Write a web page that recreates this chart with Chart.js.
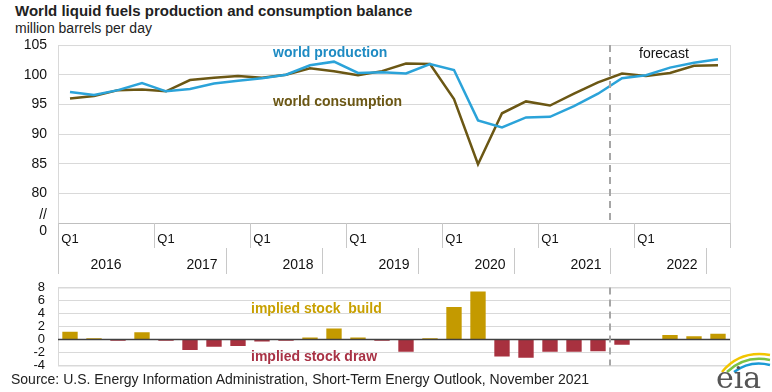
<!DOCTYPE html>
<html>
<head>
<meta charset="utf-8">
<script src="https://cdn.jsdelivr.net/npm/chart.js@4.4.0/dist/chart.umd.min.js"></script>
<style>
body{margin:0;background:#fff;font-family:"Liberation Sans",Arial,sans-serif;}
#wrap{position:relative;width:772px;height:392px;overflow:hidden;background:#fff;}
.t{position:absolute;white-space:nowrap;line-height:1;}
canvas{position:absolute;left:0;}
</style>
</head>
<body>
<div id="wrap">
  <div class="t" style="left:15px;top:3px;font-size:15px;font-weight:bold;color:#222">World liquid fuels production and consumption balance</div>
  <div class="t" style="left:15px;top:21px;font-size:14px;color:#222">million barrels per day</div>
  <!-- chart.js adds label half-height + tick padding above/below the plot, so the canvases start higher -->
  <canvas id="topChart" width="772" height="254" style="top:26px"></canvas>
  <canvas id="stockChart" width="772" height="117" style="top:268px"></canvas>
  <div class="t" style="left:273px;top:45px;font-size:14px;font-weight:bold;color:#1e8bc3">world production</div>
  <div class="t" style="left:273px;top:94px;font-size:14px;font-weight:bold;color:#6b5714">world consumption</div>
  <div class="t" style="left:639px;top:46px;font-size:14px;color:#111">forecast</div>
  <div class="t" style="left:251px;top:301px;font-size:14px;font-weight:bold;color:#c8a000">implied stock&nbsp; build</div>
  <div class="t" style="left:251px;top:349px;font-size:14px;font-weight:bold;color:#a83245">implied stock draw</div>
  <div class="t" style="left:11px;top:372px;font-size:14px;color:#222">Source: U.S. Energy Information Administration, Short-Term Energy Outlook, November 2021</div>
  <svg style="position:absolute;left:712px;top:346px" width="60" height="46">
    <path d="M10 26 Q28 4 58 9" stroke="#f2c500" stroke-width="2.5" fill="none"/>
    <path d="M15 26 Q33 9 58 14" stroke="#7cc242" stroke-width="2.5" fill="none"/>
    <path d="M22 26 Q38 14 58 19" stroke="#1a9ad6" stroke-width="2.5" fill="none"/>
    <text x="4" y="42" font-family="'DejaVu Serif','Liberation Serif',serif" font-size="30" fill="#555">eia</text>
  </svg>
</div>
<script>
const years = ['2016', '2017', '2018', '2019', '2020', '2021', '2022'];
const quarters = [
  '2016 Q1', '2016 Q2', '2016 Q3', '2016 Q4',
  '2017 Q1', '2017 Q2', '2017 Q3', '2017 Q4',
  '2018 Q1', '2018 Q2', '2018 Q3', '2018 Q4',
  '2019 Q1', '2019 Q2', '2019 Q3', '2019 Q4',
  '2020 Q1', '2020 Q2', '2020 Q3', '2020 Q4',
  '2021 Q1', '2021 Q2', '2021 Q3', '2021 Q4',
  '2022 Q1', '2022 Q2', '2022 Q3', '2022 Q4'
];
const production = [97.1, 96.6, 97.4, 98.6, 97.2, 97.6, 98.5, 99.0, 99.4, 100.0, 101.6, 102.2, 100.3, 100.4,
  100.2, 101.8, 100.8, 92.3, 91.1, 92.8, 92.9, 94.7, 96.8, 99.4, 99.9, 101.2, 102.0, 102.6];
const consumption = [96.0, 96.4, 97.4, 97.5, 97.2, 99.1, 99.5, 99.8, 99.5, 100.0, 101.1, 100.6, 99.9, 100.6,
  101.9, 101.8, 95.9, 84.9, 93.5, 95.5, 94.8, 96.8, 98.7, 100.2, 99.8, 100.3, 101.5, 101.6];
const stockChange = [1.2, 0.2, -0.2, 1.1, -0.2, -1.6, -1.1, -1.0, -0.3, -0.2, 0.3, 1.7, 0.3, -0.2,
  -1.9, 0.2, 5.0, 7.4, -2.6, -2.8, -1.9, -1.9, -1.8, -0.8, 0.0, 0.7, 0.5, 0.9];
const forecastStart = '2021 Q4';

const FONT = '"Liberation Sans", Arial, sans-serif';
const gridGray = '#d9d9d9';

// left edge of category i (i can be quarters.length for the right end)
function edgeOf(x, i) {
  const step = x.getPixelForValue(1) - x.getPixelForValue(0);
  return x.getPixelForValue(0) - step / 2 + i * step;
}

function vline(ctx, px, y0, y1) {
  px = Math.round(px) + 0.5;
  ctx.beginPath();
  ctx.moveTo(px, y0);
  ctx.lineTo(px, y1);
  ctx.stroke();
}

function drawForecast(chart) {
  const { ctx, chartArea: a, scales: { x } } = chart;
  ctx.save();
  ctx.strokeStyle = '#a6a6a6';
  ctx.lineWidth = 2;
  ctx.setLineDash([7, 5]);
  const px = edgeOf(x, quarters.indexOf(forecastStart));
  ctx.beginPath();
  ctx.moveTo(px, a.top);
  ctx.lineTo(px, a.bottom);
  ctx.stroke();
  ctx.restore();
}

const topDecor = {
  id: 'topDecor',
  afterDraw(chart) {
    const { ctx, chartArea: a, scales: { x } } = chart;
    ctx.save();
    ctx.lineWidth = 1;
    ctx.strokeStyle = gridGray;
    ctx.strokeRect(a.left + 0.5, a.top + 0.5, a.width, a.height);
    ctx.strokeStyle = '#bfbfbf';
    ctx.beginPath();
    ctx.moveTo(a.left, a.bottom + 0.5);
    ctx.lineTo(a.right, a.bottom + 0.5);
    ctx.stroke();
    ctx.strokeStyle = '#c8c8c8';
    for (let i = 0; i <= quarters.length; i += 4) {
      vline(ctx, edgeOf(x, i), a.bottom, a.bottom + 25);
    }
    vline(ctx, edgeOf(x, 0), a.bottom, a.bottom + 51);
    for (let i = 7; i < quarters.length; i += 4) {
      vline(ctx, edgeOf(x, i), a.bottom + 25, a.bottom + 51);
    }
    ctx.fillStyle = '#111';
    ctx.font = '14px ' + FONT;
    ctx.textAlign = 'center';
    ctx.textBaseline = 'middle';
    years.forEach((yr, k) => {
      ctx.fillText(yr, edgeOf(x, 4 * k + 2), a.bottom + 42);
    });
    ctx.restore();
    drawForecast(chart);
  }
};

const stockDecor = {
  id: 'stockDecor',
  afterDraw(chart) {
    const { ctx, chartArea: a } = chart;
    ctx.save();
    ctx.strokeStyle = gridGray;
    ctx.lineWidth = 1;
    ctx.strokeRect(a.left + 0.5, a.top + 0.5, a.width, a.height);
    const y0 = chart.scales.y.getPixelForValue(0);
    ctx.strokeStyle = '#404040';
    ctx.lineWidth = 1.5;
    ctx.beginPath();
    ctx.moveTo(a.left, y0);
    ctx.lineTo(a.right, y0);
    ctx.stroke();
    ctx.restore();
    drawForecast(chart);
  }
};

new Chart(document.getElementById('topChart'), {
  type: 'line',
  data: {
    labels: quarters,
    datasets: [
      {
        label: 'world production',
        data: production,
        borderColor: '#2ba3d9',
        borderWidth: 2.5,
        pointRadius: 0,
        tension: 0
      },
      {
        label: 'world consumption',
        data: consumption,
        borderColor: '#6b5714',
        borderWidth: 2.5,
        pointRadius: 0,
        tension: 0
      }
    ]
  },
  options: {
    responsive: false,
    animation: false,
    layout: { padding: { top: 0, right: 42, left: 0, bottom: 0 } },
    plugins: { legend: { display: false }, tooltip: { enabled: false } },
    scales: {
      x: {
        offset: true,
        grid: { display: false, drawTicks: false },
        border: { display: false },
        ticks: {
          autoSkip: false,
          maxRotation: 0,
          padding: 9,
          color: '#111',
          font: { family: FONT, size: 13 },
          callback: (v, i) => (i % 4 === 0 ? 'Q1' : '')
        },
        afterFit: (s) => { s.height = 57; }
      },
      y: {
        min: 75,
        max: 105,
        grid: { color: gridGray, drawTicks: false },
        border: { display: false },
        ticks: {
          stepSize: 5,
          autoSkip: false,
          padding: 11,
          color: '#111',
          font: { family: FONT, size: 14, lineHeight: 1.15 },
          callback: (v) => (v === 75 ? ['//', '0'] : v)
        },
        afterFit: (s) => { s.width = 58; }
      }
    }
  },
  plugins: [topDecor]
});

new Chart(document.getElementById('stockChart'), {
  type: 'bar',
  data: {
    labels: quarters,
    datasets: [{
      label: 'implied stock change',
      data: stockChange,
      backgroundColor: stockChange.map(v => (v >= 0 ? '#c49a00' : '#a8313f')),
      barPercentage: 0.64,
      categoryPercentage: 1
    }]
  },
  options: {
    responsive: false,
    animation: false,
    layout: { padding: { top: 0, right: 42, left: 0, bottom: 0 } },
    plugins: { legend: { display: false }, tooltip: { enabled: false } },
    scales: {
      x: { display: false },
      y: {
        min: -4,
        max: 8,
        grid: { color: gridGray, drawTicks: false },
        border: { display: false },
        ticks: {
          stepSize: 2,
          autoSkip: false,
          padding: 13,
          color: '#111',
          font: { family: FONT, size: 13, lineHeight: 1 }
        },
        afterFit: (s) => { s.width = 58; }
      }
    }
  },
  plugins: [stockDecor]
});
</script>
</body>
</html>
